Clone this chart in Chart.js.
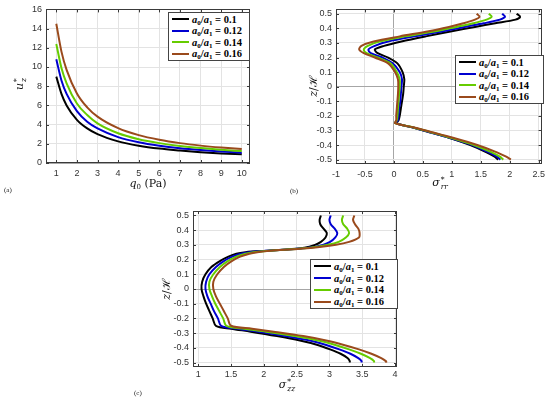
<!DOCTYPE html>
<html>
<head>
<meta charset="utf-8">
<script src="https://cdn.jsdelivr.net/npm/chart.js@4.4.1/dist/chart.umd.min.js"></script>
<style>
  body { margin: 0; background: #fff; width: 550px; height: 399px; position: relative; overflow: hidden; }
  canvas { position: absolute; }
  .lbl { position: absolute; font-family: "DejaVu Serif", "Liberation Serif", serif; font-size: 11px; color: #111; white-space: nowrap; transform: translate(-50%, -50%); }
  .rot { transform: translate(-50%, -50%) rotate(-90deg); }
  .tag { position: absolute; font-family: "Liberation Serif", serif; font-size: 7px; color: #222; }
  .legend { position: absolute; box-sizing: border-box; border: 1px solid #444; background: #fff;
            display: flex; flex-direction: column; justify-content: space-evenly;
            font-family: "Liberation Serif", "DejaVu Serif", serif; font-weight: bold; font-size: 10.5px; color: #000; }
  .row { display: flex; align-items: center; height: 11px; }
  .sw { display: inline-block; width: 17px; height: 2px; margin: 0 3px 0 3px; }
  sub { font-size: 7px; vertical-align: -2px; line-height: 0; }
  .ss { display: inline-block; font-size: 7.5px; line-height: 7px; vertical-align: -3px; font-style: italic; text-align: left; margin-left: 1px; }
  .ss span { display: block; }
</style>
</head>
<body>
<canvas id="chartA" width="270" height="200" style="left:0;top:0"></canvas>
<canvas id="chartB" width="275" height="200" style="left:275px;top:0"></canvas>
<canvas id="chartC" width="280" height="199" style="left:130px;top:200px"></canvas>

<div class="lbl" style="left:148px;top:183px"><i>q</i><sub>0</sub> (Pa)</div>
<div class="lbl rot" style="left:20px;top:84px"><i>u</i><span class="ss"><span>*</span><span>z</span></span></div>
<div class="tag" style="left:4px;top:186px">(a)</div>

<div class="lbl" style="left:440px;top:183px"><i>σ</i><span class="ss"><span>*</span><span>rr</span></span></div>
<div class="lbl rot" style="left:312px;top:86px"><i>z</i>/ℋ</div>
<div class="tag" style="left:290px;top:187px">(b)</div>

<div class="lbl" style="left:287px;top:385px"><i>σ</i><span class="ss"><span>*</span><span>zz</span></span></div>
<div class="lbl rot" style="left:165px;top:289px"><i>z</i>/ℋ</div>
<div class="tag" style="left:134px;top:389px">(c)</div>

<script>
// series labels and colours
const ratios = ['0.1', '0.12', '0.14', '0.16'];
const colors = ['#000000', '#0000d0', '#66cc00', '#9a4a1c'];

// (a) u_z* versus q0
const q0 = [1, 1.25, 1.5, 2, 2.5, 3, 4, 5, 6, 7, 8, 9, 10];
const uBlack = [9.0, 7.2, 6.0, 4.5, 3.6, 3.0, 2.25, 1.8, 1.5, 1.3, 1.13, 1.0, 0.9];
const uBlue  = [10.8, 8.6, 7.2, 5.4, 4.3, 3.6, 2.7, 2.16, 1.8, 1.54, 1.35, 1.2, 1.08];
const uGreen = [12.4, 9.9, 8.3, 6.2, 5.0, 4.13, 3.1, 2.48, 2.07, 1.77, 1.55, 1.38, 1.24];
const uBrown = [14.5, 11.6, 9.7, 7.25, 5.8, 4.83, 3.63, 2.9, 2.42, 2.07, 1.81, 1.61, 1.45];
const xTicksA = [1, 2, 3, 4, 5, 6, 7, 8, 9, 10];
const yTicksA = [0, 2, 4, 6, 8, 10, 12, 14, 16];

// (b) sigma_rr* versus z/H
const zB = [0.5, 0.48, 0.46, 0.435, 0.41, 0.38, 0.345, 0.31, 0.28, 0.255, 0.23, 0.2, 0.16, 0.1, 0.05, 0,
            -0.05, -0.1, -0.15, -0.2, -0.23, -0.25, -0.28, -0.31, -0.35, -0.4, -0.45, -0.48, -0.5];
const rrBlack = [2.12, 2.18, 2.1, 1.75, 1.4, 1.0, 0.55, 0.13, -0.17, -0.33, -0.28, -0.1, 0.06, 0.15, 0.18, 0.17,
                 0.16, 0.14, 0.12, 0.1, 0.08, 0.04, 0.33, 0.6, 0.95, 1.32, 1.6, 1.74, 1.8];
const rrBlue  = [1.87, 1.92, 1.83, 1.55, 1.22, 0.85, 0.35, -0.1, -0.33, -0.44, -0.4, -0.2, -0.02, 0.1, 0.14, 0.13,
                 0.12, 0.11, 0.09, 0.08, 0.07, 0.03, 0.33, 0.6, 0.96, 1.35, 1.64, 1.78, 1.84];
const rrGreen = [1.64, 1.69, 1.6, 1.37, 1.08, 0.72, 0.2, -0.25, -0.45, -0.52, -0.47, -0.28, -0.06, 0.05, 0.1, 0.1,
                 0.09, 0.08, 0.07, 0.06, 0.05, 0.02, 0.34, 0.62, 0.98, 1.38, 1.69, 1.83, 1.89];
const rrBrown = [1.43, 1.48, 1.4, 1.2, 0.95, 0.6, 0.1, -0.35, -0.56, -0.6, -0.52, -0.33, -0.1, 0.02, 0.07, 0.075,
                 0.07, 0.06, 0.05, 0.04, 0.04, 0.02, 0.35, 0.64, 1.02, 1.44, 1.78, 1.94, 2.02];
const xTicksB = [-1, -0.5, 0, 0.5, 1, 1.5, 2, 2.5];

// (c) sigma_zz* versus z/H
const zC = [0.5, 0.47, 0.44, 0.41, 0.38, 0.35, 0.32, 0.3, 0.28, 0.27, 0.26, 0.25, 0.24, 0.22, 0.19, 0.15, 0.1, 0.05, 0,
            -0.05, -0.1, -0.15, -0.2, -0.25, -0.27, -0.29, -0.32, -0.35, -0.38, -0.41, -0.44, -0.47, -0.49, -0.5];
const zzBlack = [2.87, 2.85, 2.86, 2.91, 2.96, 2.94, 2.87, 2.78, 2.62, 2.4, 2.05, 1.72, 1.58, 1.46, 1.33, 1.2, 1.11, 1.06, 1.05,
                 1.08, 1.12, 1.17, 1.22, 1.27, 1.5, 1.8, 2.2, 2.55, 2.82, 3.01, 3.17, 3.28, 3.31, 3.31];
const zzBlue  = [3.02, 3.0, 3.02, 3.08, 3.12, 3.09, 3.01, 2.9, 2.68, 2.4, 2.05, 1.78, 1.65, 1.52, 1.39, 1.27, 1.17, 1.12, 1.11,
                 1.14, 1.19, 1.24, 1.3, 1.35, 1.6, 1.92, 2.33, 2.7, 2.95, 3.15, 3.32, 3.44, 3.49, 3.49];
const zzGreen = [3.21, 3.19, 3.21, 3.27, 3.3, 3.25, 3.14, 2.98, 2.7, 2.4, 2.08, 1.84, 1.72, 1.58, 1.45, 1.33, 1.23, 1.17, 1.17,
                 1.21, 1.26, 1.32, 1.38, 1.43, 1.7, 2.03, 2.47, 2.83, 3.09, 3.3, 3.48, 3.62, 3.68, 3.68];
const zzBrown = [3.38, 3.36, 3.39, 3.44, 3.46, 3.45, 3.3, 3.1, 2.75, 2.45, 2.1, 1.9, 1.78, 1.64, 1.51, 1.39, 1.29, 1.23, 1.23,
                 1.27, 1.33, 1.39, 1.45, 1.5, 1.82, 2.15, 2.6, 2.95, 3.22, 3.45, 3.64, 3.79, 3.86, 3.87];
const xTicksC = [1, 1.5, 2, 2.5, 3, 3.5, 4];
const zTicks = [-0.5, -0.4, -0.3, -0.2, -0.1, 0, 0.1, 0.2, 0.3, 0.4, 0.5];

// box round the plot area with small inward ticks, like matlab
const frame = {
  id: 'frame',
  afterDraw(chart) {
    const { ctx, chartArea: a, scales } = chart;
    ctx.save();
    ctx.strokeStyle = '#3a3a3a';
    ctx.lineWidth = 1;
    ctx.beginPath();
    scales.x.ticks.forEach(t => {
      const px = Math.round(scales.x.getPixelForValue(t.value)) + 0.5;
      ctx.moveTo(px, a.bottom); ctx.lineTo(px, a.bottom - 3);
      ctx.moveTo(px, a.top); ctx.lineTo(px, a.top + 3);
    });
    scales.y.ticks.forEach(t => {
      const py = Math.round(scales.y.getPixelForValue(t.value)) + 0.5;
      ctx.moveTo(a.left, py); ctx.lineTo(a.left + 3, py);
      ctx.moveTo(a.right, py); ctx.lineTo(a.right - 3, py);
    });
    ctx.stroke();
    ctx.strokeRect(Math.round(a.left) + 0.5, Math.round(a.top) + 0.5,
                   Math.round(a.right - a.left) - 1, Math.round(a.bottom - a.top) - 1);
    ctx.restore();
  }
};

function pts(xs, ys) {
  return xs.map((x, i) => ({ x: x, y: ys[i] }));
}

function makeChart(id, series, xr, yr, xTicks, yTicks, pad, yWidth, xHeight, xPad, smooth) {
  const datasets = series.map((d, i) => ({
    label: 'a0/a1 = ' + ratios[i],
    data: d,
    showLine: true,
    borderColor: colors[i],
    borderWidth: 2,
    pointRadius: 0,
    tension: smooth === 'monotone' ? 0 : 0.3,
    cubicInterpolationMode: smooth === 'monotone' ? 'monotone' : 'default',
    order: 3 - i
  }));
  const grid = {
    color: c => (c.tick && c.tick.value === 0) ? '#a6a6a6' : '#e3e3e3',
    lineWidth: 1,
    drawTicks: false
  };
  const tickFont = { family: 'Liberation Sans, Arial, sans-serif', size: 9 };
  return new Chart(document.getElementById(id), {
    type: 'scatter',
    data: { datasets: datasets },
    options: {
      responsive: false,
      animation: false,
      layout: { padding: pad },
      plugins: { legend: { display: false }, tooltip: { enabled: false } },
      scales: {
        x: {
          type: 'linear', min: xr[0], max: xr[1],
          grid: grid, border: { display: false },
          afterBuildTicks: s => { s.ticks = xTicks.map(v => ({ value: v })); },
          afterFit: s => { s.height = xHeight; },
          ticks: { color: '#333', font: tickFont, padding: xPad, maxRotation: 0, autoSkip: false,
                   callback: v => String(v) }
        },
        y: {
          type: 'linear', min: yr[0], max: yr[1],
          grid: grid, border: { display: false },
          afterBuildTicks: s => { s.ticks = yTicks.map(v => ({ value: v })); },
          afterFit: s => { s.width = yWidth; },
          ticks: { color: '#333', font: tickFont, padding: 4, autoSkip: false,
                   callback: v => String(v) }
        }
      }
    },
    plugins: [frame]
  });
}

makeChart('chartA',
  [pts(q0, uBlack), pts(q0, uBlue), pts(q0, uGreen), pts(q0, uBrown)],
  [0.5, 10.4], [0, 16], xTicksA, yTicksA,
  { left: 0, right: 20, top: 7, bottom: 0 }, 46, 37, 5, 'monotone');

makeChart('chartB',
  [pts(rrBlack, zB), pts(rrBlue, zB), pts(rrGreen, zB), pts(rrBrown, zB)],
  [-1, 2.55], [-0.53, 0.53], xTicksB, zTicks,
  { left: 0, right: 6, top: 8, bottom: 0 }, 61, 36, 5);

makeChart('chartC',
  [pts(zzBlack, zC), pts(zzBlue, zC), pts(zzGreen, zC), pts(zzBrown, zC)],
  [0.92, 4.03], [-0.53, 0.53], xTicksC, zTicks,
  { left: 0, right: 13, top: 11, bottom: 0 }, 63, 32, 2);

// legends drawn as html boxes inside the plots
function legend(left, top, width, height) {
  const box = document.createElement('div');
  box.className = 'legend';
  box.style.left = left + 'px';
  box.style.top = top + 'px';
  box.style.width = width + 'px';
  box.style.height = height + 'px';
  ratios.forEach((r, i) => {
    const row = document.createElement('div');
    row.className = 'row';
    row.innerHTML = '<span class="sw" style="background:' + colors[i] + '"></span>' +
      '<span><i>a</i><sub>0</sub>/<i>a</i><sub>1</sub> = ' + r + '</span>';
    box.appendChild(row);
  });
  document.body.appendChild(box);
}
legend(168, 12, 82, 49);
legend(455, 55, 89, 49);
legend(310, 259, 88, 50);
</script>
</body>
</html>
